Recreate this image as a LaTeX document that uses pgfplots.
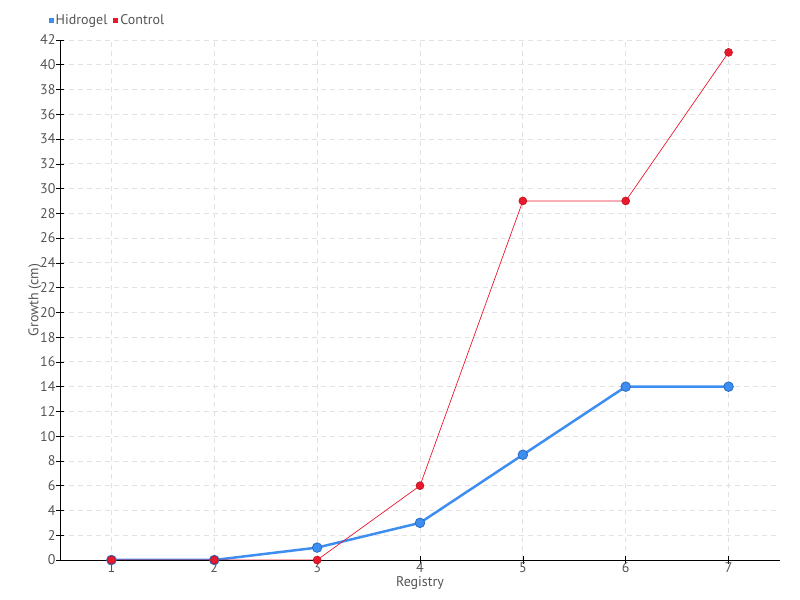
\documentclass[border=0pt]{standalone}
\usepackage{fontspec}
\setmainfont{PT Sans}
\usepackage{pgfplots}
\pgfplotsset{compat=1.18}
\definecolor{hidro}{HTML}{3D8EF0}
\definecolor{hidroedge}{HTML}{2A6CC4}
\definecolor{ctrl}{HTML}{E8192C}
\definecolor{ctrledge}{HTML}{B8101F}
\definecolor{txt}{HTML}{555555}
\definecolor{gridc}{HTML}{E2E2E2}

\begin{document}
\begin{tikzpicture}
\begin{axis}[
  scale only axis, width=720pt, height=520pt,
  xmin=0.5, xmax=7.5, ymin=0, ymax=42,
  xtick={1,...,7}, ytick={0,2,...,42},
  axis lines*=left, axis line style={-, black, line width=0.8pt},
  tickpos=left, tick align=center, major tick length=8pt,
  tick style={black, line width=0.6pt},
  grid=major, grid style={gridc, dash pattern=on 5pt off 4pt, line width=0.8pt},
  /pgf/number format/assume math mode=true,
  tick label style={font=\fontsize{14}{14}\selectfont, text=txt},
  xticklabel style={yshift=5pt},
  yticklabel style={xshift=3pt},
  xlabel={Registry}, ylabel={Growth (cm)},
  label style={font=\fontsize{14}{14}\selectfont, text=txt},
  xlabel style={yshift=3pt},
  ylabel style={yshift=-8pt},
  legend columns=2,
  legend style={draw=none, fill=none, at={(rel axis cs:-0.016,1.037)}, anchor=west,
    font=\fontsize{14}{14}\selectfont, text=txt, inner sep=0pt,
    /tikz/every even column/.append style={column sep=4pt}},
  legend image code/.code={\fill[#1, draw=none] (0pt,-2.5pt) rectangle (5pt,2.5pt);},
  legend cell align=left,
]
\addplot[hidro, line width=2.5pt, mark=*, mark size=4.8pt,
  mark options={fill=hidro, draw=hidroedge, line width=0.8pt}]
  coordinates {(1,0) (2,0) (3,1) (4,3) (5,8.5) (6,14) (7,14)};
\addlegendentry{Hidrogel}
\addplot[ctrl, line width=0.7pt, mark=*, mark size=4pt,
  mark options={fill=ctrl, draw=ctrledge, line width=0.5pt}]
  coordinates {(1,0) (2,0) (3,0) (4,6) (5,29) (6,29) (7,41)};
\addlegendentry{Control}
\coordinate (bl) at (rel axis cs:0,0);
\coordinate (tr) at (rel axis cs:1,1);
\end{axis}
\path (bl) ++(-60pt,-40pt) coordinate (a);
\path (tr) ++(20pt,40pt) coordinate (b);
\pgfresetboundingbox
\path (a) rectangle (b);
\end{tikzpicture}
\end{document}
